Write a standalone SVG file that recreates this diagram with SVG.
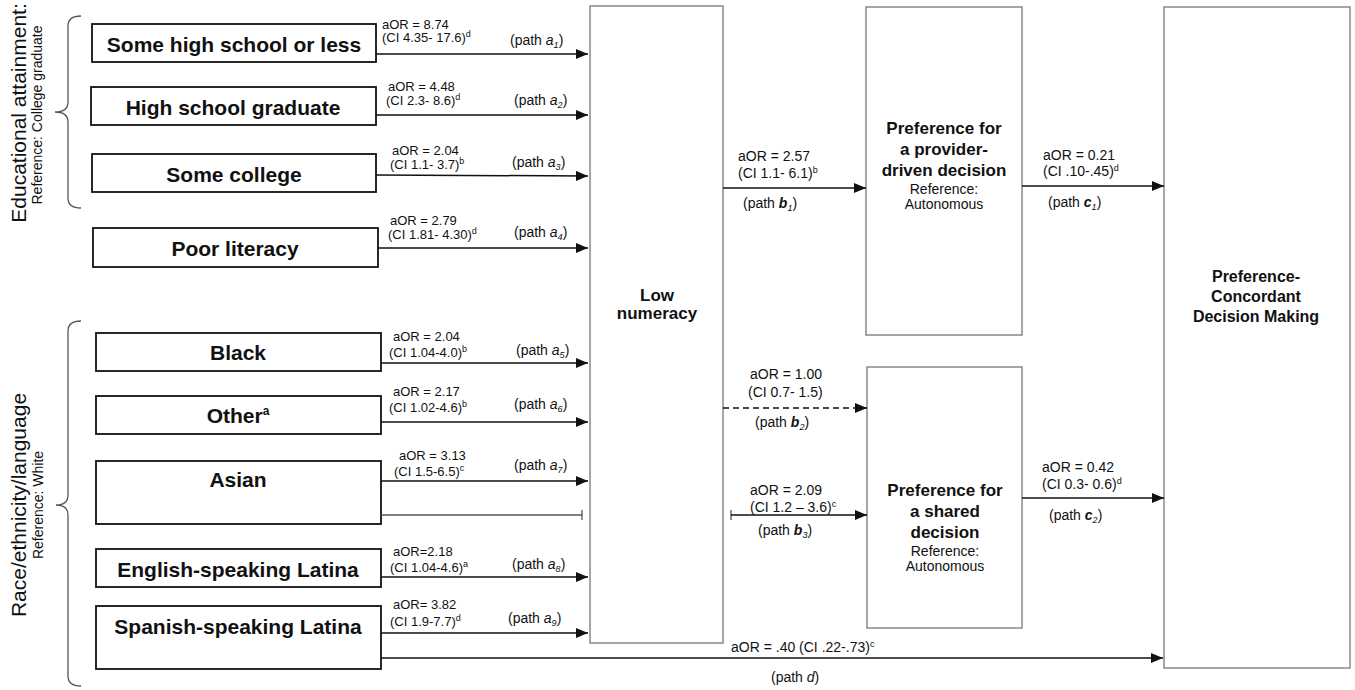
<svg xmlns="http://www.w3.org/2000/svg" width="1355" height="690" viewBox="0 0 1355 690">
<defs>
<style>
text{font-family:"Liberation Sans",Arial,Helvetica,sans-serif;fill:#111}
.box{fill:#fff;stroke:#111;stroke-width:1.8}
.box2{fill:#fff;stroke:#777;stroke-width:1.3}
.bt{font-weight:bold;font-size:21px;text-anchor:middle}
.mt{font-weight:bold;font-size:17px;text-anchor:middle}
.ct{font-weight:bold;font-size:16px;text-anchor:middle}
.rt{font-size:14px;text-anchor:middle}
.l13{font-size:13px}
.l14{font-size:14px}
.ln{stroke:#111;stroke-width:1.5;fill:none}
.br{stroke:#555;stroke-width:1.3;fill:none}
.vt1{font-size:21px;text-anchor:middle}
.vt2{font-size:14px;text-anchor:middle}
.sup{font-size:9px}
.it{font-style:italic}
</style>
<marker id="ah" markerWidth="12" markerHeight="10" refX="12" refY="5" orient="auto" markerUnits="userSpaceOnUse"><path d="M0,0 L12,5 L0,10 z" fill="#111"/></marker>
</defs>

<g id="group-labels">
<text class="vt1" transform="translate(26,113) rotate(-90)">Educational attainment:</text>
<text class="vt2" transform="translate(42,115) rotate(-90)">Reference: College graduate</text>
<path class="br" d="M81,16 Q68,16 68,26 L68,102 Q68,112 55,112 Q68,112 68,122 L68,198 Q68,208 81,208"/>
<text class="vt1" transform="translate(26,505) rotate(-90)">Race/ethnicity/language</text>
<text class="vt2" transform="translate(43,505) rotate(-90)">Reference: White</text>
<path class="br" d="M81,321 Q68,321 68,331 L68,495 Q68,505 56,505 Q68,505 68,515 L68,676 Q68,686 81,686"/>
</g>

<g id="n-somehs"><rect class="box" x="92" y="24" width="284" height="38"/><text class="bt" x="234" y="51.5">Some high school or less</text></g>
<g id="n-hsgrad"><rect class="box" x="91" y="87" width="285" height="38"/><text class="bt" x="233" y="115">High school graduate</text></g>
<g id="n-somecollege"><rect class="box" x="92" y="154" width="284" height="38"/><text class="bt" x="234" y="181.5">Some college</text></g>
<g id="n-poorlit"><rect class="box" x="93" y="228" width="285" height="39"/><text class="bt" x="235" y="256">Poor literacy</text></g>
<g id="n-black"><rect class="box" x="96" y="333" width="285" height="38"/><text class="bt" x="238" y="360">Black</text></g>
<g id="n-other"><rect class="box" x="96" y="396" width="285" height="38"/><text class="bt" x="238" y="423">Other<tspan font-size="12" dy="-8">a</tspan></text></g>
<g id="n-asian"><rect class="box" x="96" y="461" width="285" height="63"/><text class="bt" x="238" y="487">Asian</text></g>
<g id="n-englatina"><rect class="box" x="96" y="549" width="285" height="38"/><text class="bt" x="238" y="577">English-speaking Latina</text></g>
<g id="n-spanlatina"><rect class="box" x="96" y="606" width="285" height="63"/><text class="bt" x="238" y="634">Spanish-speaking Latina</text></g>

<g id="n-lownum"><rect class="box2" x="590" y="6" width="133" height="637"/><text class="mt" x="657" y="301">Low</text><text class="mt" x="657" y="319">numeracy</text></g>
<g id="n-provider"><rect class="box2" x="866" y="7" width="156" height="328"/><text class="mt" x="944" y="134">Preference for</text><text class="mt" x="944" y="155">a provider-</text><text class="mt" x="944" y="176">driven decision</text><text class="rt" x="944" y="194">Reference:</text><text class="rt" x="944" y="209">Autonomous</text></g>
<g id="n-shared"><rect class="box2" x="867" y="367" width="155" height="261"/><text class="mt" x="945" y="496">Preference for</text><text class="mt" x="945" y="517">a shared</text><text class="mt" x="945" y="538">decision</text><text class="rt" x="945" y="556">Reference:</text><text class="rt" x="945" y="571">Autonomous</text></g>
<g id="n-concordant"><rect class="box2" x="1164" y="7" width="186" height="661"/><text class="ct" x="1256" y="282">Preference-</text><text class="ct" x="1256" y="302">Concordant</text><text class="ct" x="1256" y="322">Decision Making</text></g>

<g id="connectors">
<line class="ln" x1="376" y1="54" x2="588" y2="54" marker-end="url(#ah)"/>
<line class="ln" x1="376" y1="115" x2="588" y2="115" marker-end="url(#ah)"/>
<line class="ln" x1="376" y1="175" x2="588" y2="176" marker-end="url(#ah)"/>
<line class="ln" x1="378" y1="248" x2="588" y2="248" marker-end="url(#ah)"/>
<line class="ln" x1="381" y1="363" x2="588" y2="363" marker-end="url(#ah)"/>
<line class="ln" x1="381" y1="422" x2="588" y2="422" marker-end="url(#ah)"/>
<line class="ln" x1="381" y1="481" x2="588" y2="481" marker-end="url(#ah)"/>
<path d="M381,515 L582,515 M582,510 L582,520" stroke="#555" stroke-width="1.3" fill="none"/>
<line class="ln" x1="381" y1="577" x2="588" y2="577" marker-end="url(#ah)"/>
<line class="ln" x1="381" y1="633" x2="588" y2="633" marker-end="url(#ah)"/>
<line class="ln" x1="381" y1="658" x2="1163" y2="658" marker-end="url(#ah)"/>
<line class="ln" x1="723" y1="188" x2="866" y2="188" marker-end="url(#ah)"/>
<line class="ln" x1="723" y1="408" x2="867" y2="408" stroke-dasharray="6,4" marker-end="url(#ah)"/>
<path d="M731,510 L731,520" stroke="#555" stroke-width="1.3"/>
<line class="ln" x1="731" y1="515" x2="867" y2="515" marker-end="url(#ah)"/>
<line class="ln" x1="1022" y1="186" x2="1164" y2="186" marker-end="url(#ah)"/>
<line class="ln" x1="1022" y1="498" x2="1164" y2="498" marker-end="url(#ah)"/>

<text class="l13" x="382" y="29">aOR = 8.74</text>
<text class="l13" x="382" y="42">(CI 4.35- 17.6)<tspan class="sup" dy="-5">d</tspan></text>
<text class="l14" x="510" y="45">(path <tspan class="it">a</tspan><tspan class="it sup" dy="3">1</tspan><tspan dy="-3">)</tspan></text>

<text class="l13" x="388" y="91">aOR = 4.48</text>
<text class="l13" x="386" y="105">(CI 2.3- 8.6)<tspan class="sup" dy="-5">d</tspan></text>
<text class="l14" x="514" y="105">(path <tspan class="it">a</tspan><tspan class="it sup" dy="3">2</tspan><tspan dy="-3">)</tspan></text>

<text class="l13" x="392" y="155">aOR = 2.04</text>
<text class="l13" x="390" y="169">(CI 1.1- 3.7)<tspan class="sup" dy="-5">b</tspan></text>
<text class="l14" x="512" y="167">(path <tspan class="it">a</tspan><tspan class="it sup" dy="3">3</tspan><tspan dy="-3">)</tspan></text>

<text class="l13" x="390" y="225">aOR = 2.79</text>
<text class="l13" x="388" y="239">(CI 1.81- 4.30)<tspan class="sup" dy="-5">d</tspan></text>
<text class="l14" x="514" y="237">(path <tspan class="it">a</tspan><tspan class="it sup" dy="3">4</tspan><tspan dy="-3">)</tspan></text>

<text class="l13" x="393" y="341">aOR = 2.04</text>
<text class="l13" x="389" y="357">(CI 1.04-4.0)<tspan class="sup" dy="-5">b</tspan></text>
<text class="l14" x="516" y="355">(path <tspan class="it">a</tspan><tspan class="it sup" dy="3">5</tspan><tspan dy="-3">)</tspan></text>

<text class="l13" x="393" y="396">aOR = 2.17</text>
<text class="l13" x="389" y="412">(CI 1.02-4.6)<tspan class="sup" dy="-5">b</tspan></text>
<text class="l14" x="514" y="409">(path <tspan class="it">a</tspan><tspan class="it sup" dy="3">6</tspan><tspan dy="-3">)</tspan></text>

<text class="l13" x="399" y="460">aOR = 3.13</text>
<text class="l13" x="394" y="476">(CI 1.5-6.5)<tspan class="sup" dy="-5">c</tspan></text>
<text class="l14" x="514" y="470">(path <tspan class="it">a</tspan><tspan class="it sup" dy="3">7</tspan><tspan dy="-3">)</tspan></text>

<text class="l13" x="393" y="556">aOR=2.18</text>
<text class="l13" x="390" y="572">(CI 1.04-4.6)<tspan class="sup" dy="-5">a</tspan></text>
<text class="l14" x="512" y="569">(path <tspan class="it">a</tspan><tspan class="it sup" dy="3">8</tspan><tspan dy="-3">)</tspan></text>

<text class="l13" x="393" y="609">aOR= 3.82</text>
<text class="l13" x="390" y="626">(CI 1.9-7.7)<tspan class="sup" dy="-5">d</tspan></text>
<text class="l14" x="508" y="623">(path <tspan class="it">a</tspan><tspan class="it sup" dy="3">9</tspan><tspan dy="-3">)</tspan></text>

<text class="l14" x="738" y="161">aOR = 2.57</text>
<text class="l14" x="738" y="178">(CI 1.1- 6.1)<tspan class="sup" dy="-5">b</tspan></text>
<text class="l14" x="743" y="208">(path <tspan class="it" font-weight="bold">b</tspan><tspan class="it sup" dy="3">1</tspan><tspan dy="-3">)</tspan></text>

<text class="l14" x="750" y="379">aOR = 1.00</text>
<text class="l14" x="748" y="397">(CI 0.7- 1.5)</text>
<text class="l14" x="755" y="427">(path <tspan class="it" font-weight="bold">b</tspan><tspan class="it sup" dy="3">2</tspan><tspan dy="-3">)</tspan></text>

<text class="l14" x="750" y="495">aOR = 2.09</text>
<text class="l14" x="750" y="512">(CI 1.2 – 3.6)<tspan class="sup" dy="-5">c</tspan></text>
<text class="l14" x="758" y="535">(path <tspan class="it" font-weight="bold">b</tspan><tspan class="it sup" dy="3">3</tspan><tspan dy="-3">)</tspan></text>

<text class="l14" x="1043" y="160">aOR = 0.21</text>
<text class="l14" x="1043" y="176">(CI .10-.45)<tspan class="sup" dy="-5">d</tspan></text>
<text class="l14" x="1048" y="207">(path <tspan class="it" font-weight="bold">c</tspan><tspan class="it sup" dy="3">1</tspan><tspan dy="-3">)</tspan></text>

<text class="l14" x="1042" y="472">aOR = 0.42</text>
<text class="l14" x="1042" y="489">(CI 0.3- 0.6)<tspan class="sup" dy="-5">d</tspan></text>
<text class="l14" x="1049" y="520">(path <tspan class="it" font-weight="bold">c</tspan><tspan class="it sup" dy="3">2</tspan><tspan dy="-3">)</tspan></text>

<text class="l14" x="731" y="652">aOR = .40 (CI .22-.73)<tspan class="sup" dy="-5">c</tspan></text>
<text class="l14" x="771" y="682">(path <tspan class="it">d</tspan>)</text>
</g>
</svg>
